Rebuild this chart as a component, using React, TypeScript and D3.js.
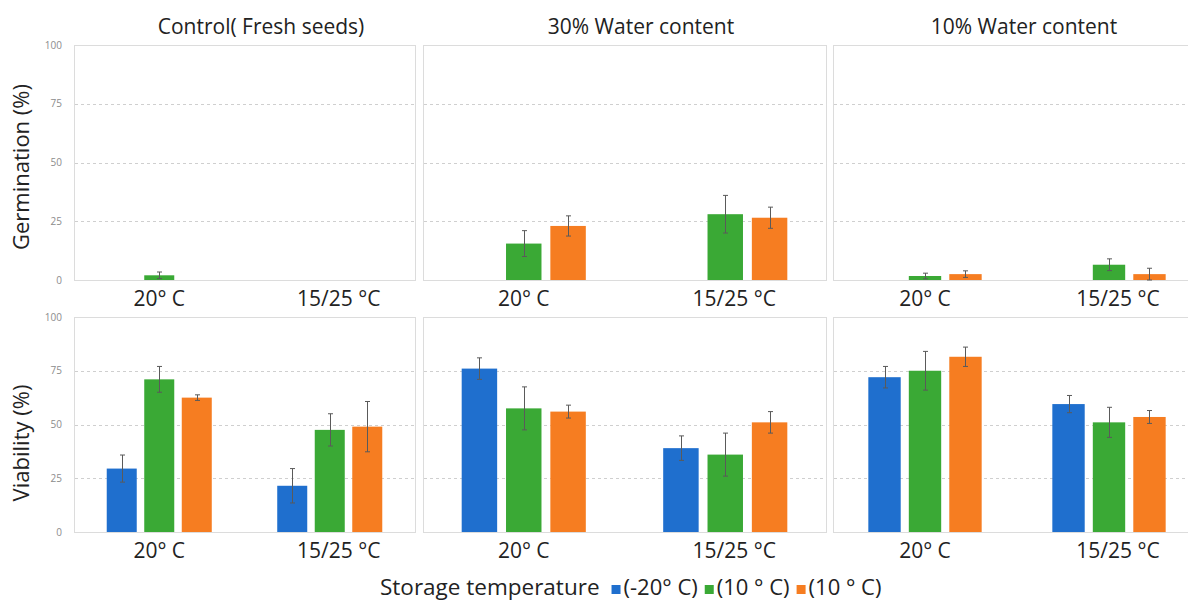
import * as d3 from "d3";
import { useEffect, useRef } from "react";

// Données
const panelTitles = ["Control( Fresh seeds)", "30% Water content", "10% Water content"];
const temperatures = ["20° C", "15/25 °C"];
const storageLabels = ["(-20° C)", "(10 ° C)", "(10 ° C)"];
const storageColors = ["#1f6fce", "#3aa935", "#f67d21"];
const yTicks = [0, 25, 50, 75, 100];

// [panneau][température][stockage]
const germination = [
	[[0, 2, 0], [0, 0, 0]],
	[[0, 15.5, 23], [0, 28, 26.5]],
	[[0, 1.7, 2.5], [0, 6.5, 2.5]],
];
const germinationErr = [
	[[0, 1.4, 0], [0, 0, 0]],
	[[0, 5.5, 4.3], [0, 8, 4.5]],
	[[0, 1.2, 1.4], [0, 2.5, 2.5]],
];
const viability = [
	[[29.5, 71, 62.5], [21.5, 47.5, 49]],
	[[76, 57.5, 56], [39, 36, 51]],
	[[72, 75, 81.5], [59.5, 51, 53.5]],
];
const viabilityErr = [
	[[6.3, 6, 1.3], [8, 7.5, 11.7]],
	[[5, 10, 3], [5.7, 10, 5]],
	[[5, 9, 4.5], [4, 7, 3]],
];

const rowLabels = ["Germination (%)", "Viability (%)"];

const App = () => {
	const svgRef = useRef<SVGSVGElement>(null);

	useEffect(() => {
		if (!svgRef.current) return;
		const width = 1188;
		const height = 601;
		const font = "'Open Sans', 'Noto Sans', sans-serif";

		const svg = d3
			.select(svgRef.current)
			.attr("width", width)
			.attr("height", height)
			.style("position", "absolute")
			.style("left", "0px")
			.style("top", "0px")
			.style("background", "#fff")
			.style("font-family", font);

		svg.selectAll("*").remove();

		// Position des panneaux
		const cols: [number, number][] = [[74, 415], [423, 826], [833, 1201]];
		const rows = [
			{ top: 45, bottom: 280, labelY: 306, values: germination, errs: germinationErr, labelCy: 167 },
			{ top: 317, bottom: 532, labelY: 558, values: viability, errs: viabilityErr, labelCy: 443 },
		];
		const titleX = [261, 641, 1024];

		rows.forEach((row, r) => {
			const y = d3.scaleLinear().domain([0, 100]).range([row.bottom, row.top]);

			cols.forEach(([x0, x1], p) => {
				const g = svg.append("g");
				const xOuter = d3.scaleBand().domain(temperatures).range([x0, x1]);
				const bw = xOuter.bandwidth();
				const xInner = d3
					.scaleBand()
					.domain(storageLabels.map((_, i) => String(i)))
					.range([bw * 0.17, bw * 0.83])
					.paddingInner(0.2)
					.paddingOuter(0.1);

				// Cadre
				g.append("rect")
					.attr("x", x0 + 0.5)
					.attr("y", row.top + 0.5)
					.attr("width", x1 - x0)
					.attr("height", row.bottom - row.top)
					.attr("fill", "none")
					.attr("stroke", "#dcdcdc");

				// Lignes pointillées
				g.selectAll(".grid")
					.data(yTicks.filter((t) => t > 0 && t < 100))
					.enter()
					.append("line")
					.attr("x1", x0 + 1)
					.attr("x2", x1)
					.attr("y1", (d) => Math.round(y(d)) + 0.5)
					.attr("y2", (d) => Math.round(y(d)) + 0.5)
					.attr("stroke", "#cfcfcf")
					.attr("stroke-dasharray", "3,3");

				// Graduations (seulement à gauche)
				if (p === 0) {
					g.selectAll(".tick")
						.data(yTicks)
						.enter()
						.append("text")
						.attr("x", x0 - 12)
						.attr("y", (d) => y(d) + 3.5)
						.attr("text-anchor", "end")
						.attr("font-size", 10)
						.attr("fill", "#8c8c8c")
						.text((d) => d);
				}

				temperatures.forEach((temp, t) => {
					const base = xOuter(temp) ?? 0;
					storageLabels.forEach((_, s) => {
						const v = row.values[p][t][s];
						const e = row.errs[p][t][s];
						if (v === 0 && e === 0) return;
						const bx = base + (xInner(String(s)) ?? 0);
						const w = xInner.bandwidth();
						g.append("rect")
							.attr("x", bx)
							.attr("y", y(v))
							.attr("width", w)
							.attr("height", y(0) - y(v))
							.attr("fill", storageColors[s]);
						// Barre d'erreur
						const cx = Math.round(bx + w / 2) + 0.5;
						const lo = y(Math.max(0, v - e));
						const hi = y(v + e);
						g.append("line")
							.attr("x1", cx).attr("x2", cx)
							.attr("y1", lo).attr("y2", hi)
							.attr("stroke", "#5a5a5a").attr("stroke-width", 1);
						[lo, hi].forEach((yy) => {
							g.append("line")
								.attr("x1", cx - 2.5).attr("x2", cx + 2.5)
								.attr("y1", yy).attr("y2", yy)
								.attr("stroke", "#5a5a5a").attr("stroke-width", 1);
						});
					});

					// Étiquette de température
					g.append("text")
						.attr("x", base + bw / 2 + (t === 1 ? 9 : 0))
						.attr("y", row.labelY)
						.attr("text-anchor", "middle")
						.attr("font-size", 21)
						.attr("fill", "#222")
						.text(temp);
				});

				if (r === 0) {
					svg.append("text")
						.attr("x", titleX[p])
						.attr("y", 34)
						.attr("text-anchor", "middle")
						.attr("font-size", 21)
						.attr("fill", "#222")
						.text(panelTitles[p]);
				}
			});

			// Titre de l'axe y
			svg.append("text")
				.attr("transform", `translate(29, ${row.labelCy}) rotate(-90)`)
				.attr("text-anchor", "middle")
				.attr("font-size", 22)
				.attr("fill", "#222")
				.text(rowLabels[r]);
		});

		// Légende
		const legend = svg.append("g");
		const legendY = 595;
		const title = legend
			.append("text")
			.attr("x", 380)
			.attr("y", legendY)
			.attr("font-size", 22.5)
			.attr("fill", "#222")
			.text("Storage temperature");
		let lx = 380 + (title.node()?.getComputedTextLength() ?? 228) + 12;
		storageLabels.forEach((label, i) => {
			legend.append("rect")
				.attr("x", lx)
				.attr("y", legendY - 10)
				.attr("width", 9)
				.attr("height", 9)
				.attr("fill", storageColors[i]);
			const txt = legend.append("text")
				.attr("x", lx + 12)
				.attr("y", legendY)
				.attr("font-size", 22)
				.attr("fill", "#222")
				.text(label);
			lx += 12 + (txt.node()?.getComputedTextLength() ?? 75) + 7;
		});
	}, []);

	return <svg ref={svgRef}></svg>;
};

export default App;
